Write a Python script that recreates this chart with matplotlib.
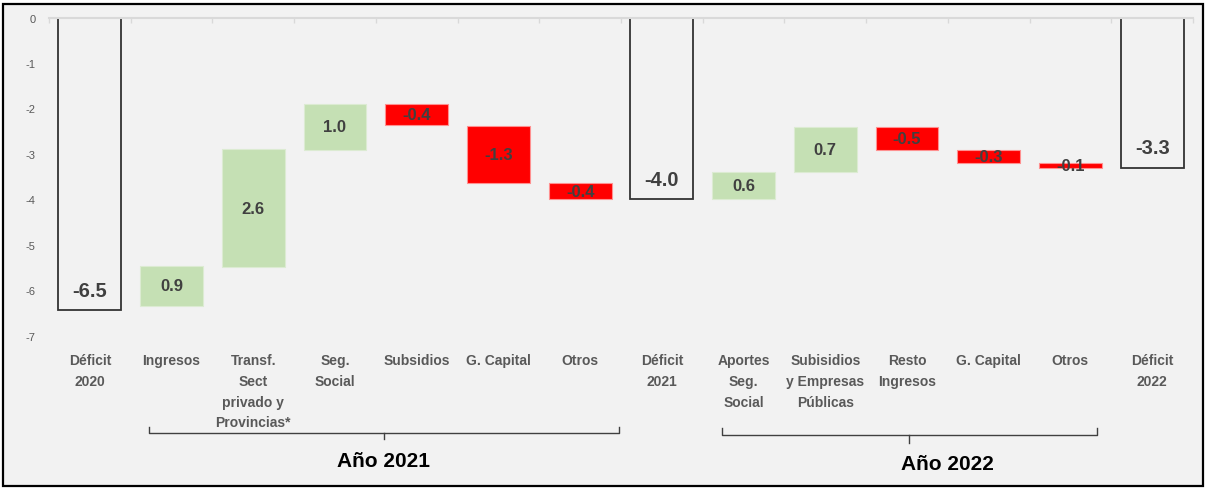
import numpy as np
import matplotlib.pyplot as plt
from matplotlib.patches import Rectangle
from matplotlib.transforms import blended_transform_factory

plt.rcParams['font.family'] = ['Liberation Sans', 'DejaVu Sans']

# Datos (% del PIB)
categorias = ["Déficit\n2020", "Ingresos", "Transf.\nSect\nprivado y\nProvincias*",
              "Seg.\nSocial", "Subsidios", "G. Capital", "Otros", "Déficit\n2021",
              "Aportes\nSeg.\nSocial", "Subisidios\ny Empresas\nPúblicas",
              "Resto\nIngresos", "G. Capital", "Otros", "Déficit\n2022"]
inicio = [0.0, -6.35, -5.49, -2.905, -1.90, -2.39, -3.64, 0.0,
          -4.00, -3.40, -2.41, -2.905, -3.20, 0.0]
fin = [-6.44, -5.46, -2.90, -1.90, -2.36, -3.64, -4.00, -4.00,
       -3.40, -2.41, -2.905, -3.20, -3.30, -3.30]
etiquetas = ["-6.5", "0.9", "2.6", "1.0", "-0.4", "-1.3", "-0.4", "-4.0",
             "0.6", "0.7", "-0.5", "-0.3", "-0.1", "-3.3"]
es_total = [True, False, False, False, False, False, False, True,
            False, False, False, False, False, True]

verde = '#c5e0b4'
rojo = '#ff0000'

fig = plt.figure(figsize=(12.06, 4.89), dpi=100)
fig.patch.set_facecolor('white')
fig.patches.append(Rectangle((3/1206, 2/489), 1200/1206, 482/489, transform=fig.transFigure,
                             facecolor='#f2f2f2', edgecolor='black', lw=1.6, zorder=-5))

ax = fig.add_axes([49/1206, 1 - 336.7/489, 1144/1206, 318.2/489])
ax.set_facecolor('none')

x = np.arange(len(categorias))
inicio = np.array(inicio)
fin = np.array(fin)

for i in x:
    alto = fin[i] - inicio[i]
    if es_total[i]:
        ax.bar(i, alto, bottom=inicio[i], width=0.77, facecolor='none',
               edgecolor='#333333', lw=1.3)
        ax.annotate(etiquetas[i], (i, fin[i]), xytext=(0, 14.5), textcoords='offset points',
                    ha='center', va='center', fontsize=14.5, fontweight='bold', color='#404040')
    else:
        color = verde if alto > 0 else rojo
        borde = '#dcebd2' if alto > 0 else '#ff9090'
        ax.bar(i, alto, bottom=inicio[i], width=0.77, color=color, edgecolor=borde, lw=0.8)
        ax.text(i, (inicio[i] + fin[i]) / 2, etiquetas[i], ha='center', va='center',
                fontsize=12, fontweight='bold', color='#404040')

ax.set_xlim(-0.5, len(categorias) - 0.5)
ax.set_ylim(-7, 0)
ax.set_yticks(np.arange(-7, 1, 1))
ax.set_yticklabels([str(v) for v in range(-7, 1)])

ax.set_xticks([])
ax.set_xticks(np.arange(-0.5, len(categorias), 1), minor=True)
ax.tick_params(axis='x', which='minor', top=True, bottom=False, direction='in',
               length=3.5, color='#d9d9d9', width=1)
ax.tick_params(axis='y', length=0, pad=9.5, labelsize=8, labelcolor='#595959')

tr = blended_transform_factory(ax.transData, fig.transFigure)
for i, cat in zip(x, categorias):
    ax.text(i, 1 - 354/489, cat, transform=tr, ha='center', va='top', fontsize=10,
            fontweight='bold', color='#595959', linespacing=1.62)

for s in ['left', 'right', 'bottom']:
    ax.spines[s].set_visible(False)
ax.spines['top'].set_color('#d9d9d9')
ax.spines['top'].set_linewidth(1.5)

# Llaves de los años
def llave(x0, x1, xc, y, ytop, ybot, texto, xt, yt):
    ax.plot([x0, x0, x1, x1], [ytop, y, y, ytop], color='#404040', lw=1, transform=tr, clip_on=False)
    ax.plot([xc, xc], [y, ybot], color='#404040', lw=1, transform=tr, clip_on=False)
    ax.text(xt, yt, texto, transform=tr, ha='center', va='center', fontsize=15,
            fontweight='bold', color='black')

llave(0.72, 6.48, 3.60, 1 - 434/489, 1 - 428/489, 1 - 440/489, "Año 2021", 3.59, 1 - 462/489)
llave(7.73, 12.32, 10.03, 1 - 436/489, 1 - 429/489, 1 - 444/489, "Año 2022", 10.49, 1 - 465/489)

plt.savefig("out.png", dpi=100)
